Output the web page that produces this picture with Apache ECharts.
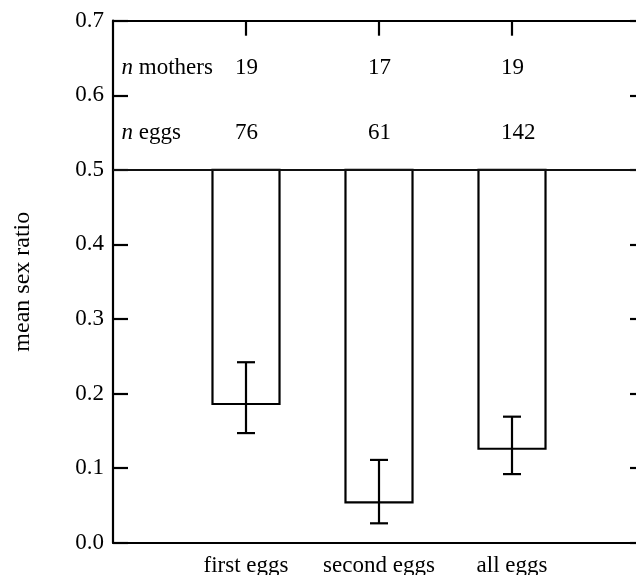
<!DOCTYPE html>
<html>
<head>
<meta charset="utf-8">
<script src="https://cdn.jsdelivr.net/npm/echarts@6/dist/echarts.min.js"></script>
<style>
html,body{margin:0;padding:0;background:#fff;}
#chart{width:636px;height:575px;}
</style>
</head>
<body>
<div id="chart"></div>
<script>
// ---- data ----
const categories = ['first eggs', 'second eggs', 'all eggs'];
const meanSexRatio = [0.186, 0.054, 0.126];
const errLow = [0.147, 0.026, 0.092];
const errHigh = [0.242, 0.111, 0.169];
const nMothers = [19, 17, 19];
const nEggs = [76, 61, 142];
const rowLabels = ['{i|n} mothers', '{i|n} eggs'];
const yTickValues = [0, 0.1, 0.2, 0.3, 0.4, 0.5, 0.6, 0.7];

// ---- style ----
const FONT = "'Liberation Serif', 'DejaVu Serif', serif";
const FS = 23;
const rowY = [0.636, 0.549];
const baseLine = 0.5;
const halfBar = 0.252;

const chart = echarts.init(document.getElementById('chart'), null, {renderer: 'canvas'});

const textData = [];
rowLabels.forEach((t, r) => textData.push([0, rowY[r], t, 8.5]));
categories.forEach((c, i) => {
  textData.push([i + 1, rowY[0], String(nMothers[i]), -11]);
  textData.push([i + 1, rowY[1], String(nEggs[i]), -11]);
});

const option = {
  animation: false,
  backgroundColor: '#fff',
  grid: {left: 113, right: -9, top: 20.7, bottom: 32.3, containLabel: false, outerBoundsMode: 'none'},
  xAxis: [
    {
      type: 'value', min: 0, max: 4, interval: 1, position: 'bottom',
      axisLine: {show: true, onZero: false, lineStyle: {color: '#000', width: 2.2}},
      axisTick: {show: false},
      splitLine: {show: false},
      axisLabel: {
        show: true, margin: 12, color: '#000', fontFamily: FONT, fontSize: FS,
        formatter: v => categories[v - 1] || ''
      }
    },
    {
      type: 'value', min: 0, max: 4, interval: 1, position: 'top',
      axisLine: {show: true, onZero: false, lineStyle: {color: '#000', width: 1.8}},
      axisTick: {show: true, inside: true, length: 15, customValues: [1, 2, 3], lineStyle: {color: '#000', width: 2.2}},
      splitLine: {show: false},
      axisLabel: {show: false}
    }
  ],
  yAxis: [
    {
      type: 'value', min: 0, max: 0.7, interval: 0.1, position: 'left',
      name: 'mean sex ratio', nameLocation: 'middle', nameGap: 78,
      nameTextStyle: {color: '#000', fontFamily: FONT, fontSize: 24},
      axisLine: {show: true, onZero: false, lineStyle: {color: '#000', width: 2.2}},
      axisTick: {show: true, inside: true, length: 15, lineStyle: {color: '#000', width: 2.2}},
      splitLine: {show: false},
      axisLabel: {show: true, margin: 9, color: '#000', fontFamily: FONT, fontSize: FS, formatter: v => v.toFixed(1)}
    },
    {
      type: 'value', min: 0, max: 0.7, interval: 0.1, position: 'right',
      axisLine: {show: false, onZero: false},
      axisTick: {show: true, inside: true, length: 15, lineStyle: {color: '#000', width: 2.2}},
      splitLine: {show: false},
      axisLabel: {show: false}
    }
  ],
  series: [
    {
      type: 'custom',
      xAxisIndex: 0, yAxisIndex: 0,
      data: categories.map((c, i) => [i + 1, meanSexRatio[i]]),
      renderItem: function (params, api) {
        const x = api.value(0), v = api.value(1);
        const p1 = api.coord([x - halfBar, baseLine]);
        const p2 = api.coord([x + halfBar, v]);
        return {
          type: 'rect',
          shape: {x: p1[0], y: p1[1], width: p2[0] - p1[0], height: p2[1] - p1[1]},
          style: {fill: 'none', stroke: '#000', lineWidth: 2.2}
        };
      },
      markLine: {
        silent: true, symbol: 'none', label: {show: false},
        lineStyle: {color: '#111', width: 1.8, type: 'solid'},
        data: [{yAxis: baseLine}]
      },
      z: 3
    },
    {
      type: 'custom',
      xAxisIndex: 0, yAxisIndex: 0,
      data: categories.map((c, i) => [i + 1, errLow[i], errHigh[i]]),
      renderItem: function (params, api) {
        const x = api.value(0);
        const lo = api.coord([x, api.value(1)]);
        const hi = api.coord([x, api.value(2)]);
        const cap = 9;
        const st = {stroke: '#000', lineWidth: 2.2};
        return {
          type: 'group',
          children: [
            {type: 'line', shape: {x1: lo[0], y1: lo[1], x2: hi[0], y2: hi[1]}, style: st},
            {type: 'line', shape: {x1: lo[0] - cap, y1: lo[1], x2: lo[0] + cap, y2: lo[1]}, style: st},
            {type: 'line', shape: {x1: hi[0] - cap, y1: hi[1], x2: hi[0] + cap, y2: hi[1]}, style: st}
          ]
        };
      },
      z: 4
    },
    {
      type: 'custom',
      xAxisIndex: 0, yAxisIndex: 0,
      data: textData,
      renderItem: function (params, api) {
        const d = textData[params.dataIndex];
        const p = api.coord([d[0], d[1]]);
        return {
          type: 'text',
          x: p[0] + d[3], y: p[1],
          style: {
            text: d[2], fill: '#000', font: FS + 'px ' + FONT,
            fontFamily: FONT, fontSize: FS,
            align: 'left', verticalAlign: 'middle',
            rich: {i: {fontStyle: 'italic', fontFamily: FONT, fontSize: FS}}
          }
        };
      },
      z: 5
    }
  ]
};
chart.setOption(option);
</script>
</body>
</html>
